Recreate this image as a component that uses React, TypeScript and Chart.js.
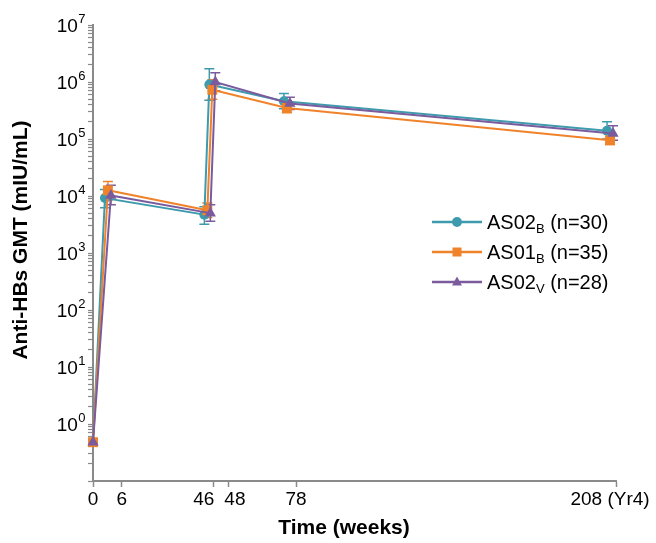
import React, { useEffect, useRef } from "react";
import { Chart, registerables } from "chart.js";

Chart.register(...registerables);

// ---- data ----
const weeks = [0, 6, 46, 48, 78, 208];

const seriesBase = ["AS02", "AS01", "AS02"];
const seriesSub = ["B", "B", "V"];
const seriesN = [" (n=30)", " (n=35)", " (n=28)"];

const as02B = [0.48, 9200, 4700, 900000, 460000, 140000];
const as02BLow = [0.42, 6200, 3200, 480000, 340000, 100000];
const as02BHigh = [0.55, 13000, 6500, 1700000, 630000, 200000];

const as01B = [0.48, 12600, 5600, 730000, 350000, 95000];
const as01BLow = [0.42, 8500, 4200, 500000, 290000, 80000];
const as01BHigh = [0.55, 18000, 7500, 1100000, 470000, 125000];

const as02V = [0.48, 10200, 5000, 1000000, 420000, 125000];
const as02VLow = [0.42, 7000, 3600, 700000, 330000, 95000];
const as02VHigh = [0.55, 15500, 7000, 1450000, 540000, 170000];

const xTickLabels = ["0", "6", "46", "48", "78", "208 (Yr4)"];
const xTickAt = [0, 11.3, 48.3, 54.7, 81.7, 210.4];
const xLabelAt = [0, 11.6, 44.6, 57.1, 81.7, 208];
const yTickExponents = [0, 1, 2, 3, 4, 5, 6, 7];
const xTitle = "Time (weeks)";
const yTitle = "Anti-HBs GMT (mIU/mL)";

// ---- styles ----
const colors = ["#3E9AAD", "#F0832A", "#7A5C9E"];
const pointStyles = ["circle", "rect", "triangle"];
const pointRadii = [5, 7, 6.5];
const jitter = [-1.2, 0, 1.2];
const FONT = "'Liberation Sans', Arial, sans-serif";

const values = [as02B, as01B, as02V];
const lows = [as02BLow, as01BLow, as02VLow];
const highs = [as02BHigh, as01BHigh, as02VHigh];

const xOf = (w: number, i: number) => (w === 0 ? 0 : w + jitter[i]);

const errorBarPlugin = {
  id: "errorBars",
  beforeDatasetsDraw(chart: any) {
    const { ctx, scales } = chart;
    const xs = scales.x;
    const ys = scales.y;
    ctx.save();
    values.forEach((_, i) => {
      ctx.strokeStyle = colors[i];
      ctx.lineWidth = 1.5;
      weeks.forEach((w, j) => {
        const px = xs.getPixelForValue(xOf(w, i));
        const yl = ys.getPixelForValue(lows[i][j]);
        const yh = ys.getPixelForValue(highs[i][j]);
        ctx.beginPath();
        ctx.moveTo(px, yl);
        ctx.lineTo(px, yh);
        ctx.moveTo(px - 5, yl);
        ctx.lineTo(px + 5, yl);
        ctx.moveTo(px - 5, yh);
        ctx.lineTo(px + 5, yh);
        ctx.stroke();
      });
    });
    ctx.restore();
  },
};

const axisLabelPlugin = {
  id: "axisLabels",
  afterDraw(chart: any) {
    const { ctx, scales } = chart;
    const xs = scales.x;
    const ys = scales.y;
    ctx.save();
    ctx.fillStyle = "#000";
    // y: 10 with superscript exponent
    yTickExponents.forEach((e) => {
      const py = ys.getPixelForValue(Math.pow(10, e));
      ctx.font = `19px ${FONT}`;
      const w10 = ctx.measureText("10").width;
      ctx.font = `13px ${FONT}`;
      const we = ctx.measureText(String(e)).width;
      const x0 = ys.right - 8 - w10 - we;
      ctx.textAlign = "left";
      ctx.textBaseline = "alphabetic";
      ctx.font = `19px ${FONT}`;
      ctx.fillText("10", x0, py + 7);
      ctx.font = `13px ${FONT}`;
      ctx.fillText(String(e), x0 + w10 + 0.5, py - 2);
    });
    // x labels
    ctx.font = `19px ${FONT}`;
    ctx.textAlign = "center";
    ctx.textBaseline = "middle";
    xTickLabels.forEach((lab, i) => {
      ctx.fillText(lab, xs.getPixelForValue(xLabelAt[i]), xs.top + 19);
    });
    // titles
    ctx.font = `bold 21px ${FONT}`;
    ctx.fillText(xTitle, 344, 528);
    ctx.translate(21, 240);
    ctx.rotate(-Math.PI / 2);
    ctx.fillText(yTitle, 0, 0);
    ctx.restore();
  },
};

function drawMarker(ctx: CanvasRenderingContext2D, style: string, x: number, y: number, s: number) {
  ctx.beginPath();
  if (style === "circle") {
    ctx.arc(x, y, s * 0.55, 0, Math.PI * 2);
  } else if (style === "rect") {
    ctx.rect(x - s / 2, y - s / 2, s, s);
  } else {
    ctx.moveTo(x, y - s * 0.6);
    ctx.lineTo(x + s * 0.55, y + s * 0.4);
    ctx.lineTo(x - s * 0.55, y + s * 0.4);
    ctx.closePath();
  }
  ctx.fill();
}

const legendPlugin = {
  id: "customLegend",
  afterDraw(chart: any) {
    const { ctx } = chart;
    const rows = [222, 252, 282];
    ctx.save();
    seriesBase.forEach((base, i) => {
      const y = rows[i];
      ctx.strokeStyle = colors[i];
      ctx.fillStyle = colors[i];
      ctx.lineWidth = 2.5;
      ctx.beginPath();
      ctx.moveTo(432, y);
      ctx.lineTo(482, y);
      ctx.stroke();
      drawMarker(ctx, pointStyles[i], 457, y, 9);
      ctx.fillStyle = "#000";
      ctx.textBaseline = "alphabetic";
      ctx.textAlign = "left";
      ctx.font = `20px ${FONT}`;
      let x = 487;
      const baseY = y + 7;
      ctx.fillText(base, x, baseY);
      x += ctx.measureText(base).width;
      ctx.font = `13px ${FONT}`;
      ctx.fillText(seriesSub[i], x, baseY + 4);
      x += ctx.measureText(seriesSub[i]).width;
      ctx.font = `20px ${FONT}`;
      ctx.fillText(seriesN[i], x, baseY);
    });
    ctx.restore();
  },
};

export default function App() {
  const ref = useRef<HTMLCanvasElement | null>(null);

  useEffect(() => {
    if (!ref.current) return;
    const datasets = values.map((vals, i) => ({
      label: seriesBase[i] + seriesSub[i] + seriesN[i],
      data: weeks.map((w, j) => ({ x: xOf(w, i), y: vals[j] })),
      borderColor: colors[i],
      backgroundColor: colors[i],
      borderWidth: 2,
      pointStyle: pointStyles[i],
      pointRadius: pointRadii[i],
      pointHoverRadius: pointRadii[i],
      pointBorderWidth: 0,
      clip: false,
      order: 2 - i,
    }));

    const chart = new Chart(ref.current, {
      type: "line",
      data: { datasets },
      plugins: [errorBarPlugin, legendPlugin, axisLabelPlugin],
      options: {
        animation: false,
        responsive: false,
        maintainAspectRatio: false,
        events: [],
        layout: { padding: { top: 25, right: 40, left: 0, bottom: 0 } },
        plugins: {
          legend: { display: false },
          tooltip: { enabled: false },
          title: { display: false },
        },
        scales: {
          x: {
            type: "linear",
            min: 0,
            max: 210.4,
            afterBuildTicks: (scale: any) => {
              scale.ticks = xTickAt.map((v) => ({ value: v }));
            },
            afterFit: (scale: any) => {
              scale.height = 62;
            },
            ticks: { display: false, autoSkip: false },
            grid: {
              drawOnChartArea: false,
              drawTicks: true,
              tickLength: 6,
              tickColor: "#8a8a8a",
              tickWidth: 1.5,
            },
            border: { display: true, color: "#8a8a8a", width: 2 },
            title: { display: false },
          },
          y: {
            type: "logarithmic",
            min: 0.1,
            max: 1e7,
            afterBuildTicks: (scale: any) => {
              const t: any[] = [];
              for (let e = -1; e < 7; e++) {
                for (let m = 1; m <= 9; m++) t.push({ value: m * Math.pow(10, e), major: m === 1 });
              }
              t.push({ value: 1e7, major: true });
              scale.ticks = t;
            },
            afterFit: (scale: any) => {
              scale.width = 93;
            },
            ticks: { display: false, autoSkip: false },
            grid: {
              drawOnChartArea: false,
              drawTicks: true,
              tickLength: 5,
              tickColor: "#8a8a8a",
              tickWidth: 1.2,
            },
            border: { display: true, color: "#8a8a8a", width: 2 },
            title: { display: false },
          },
        },
      } as any,
    });
    return () => chart.destroy();
  }, []);

  return (
    <div style={{ position: "fixed", left: 0, top: 0, width: 656, height: 543, background: "#fff" }}>
      <canvas ref={ref} width={656} height={543} style={{ width: 656, height: 543, display: "block" }} />
    </div>
  );
}
